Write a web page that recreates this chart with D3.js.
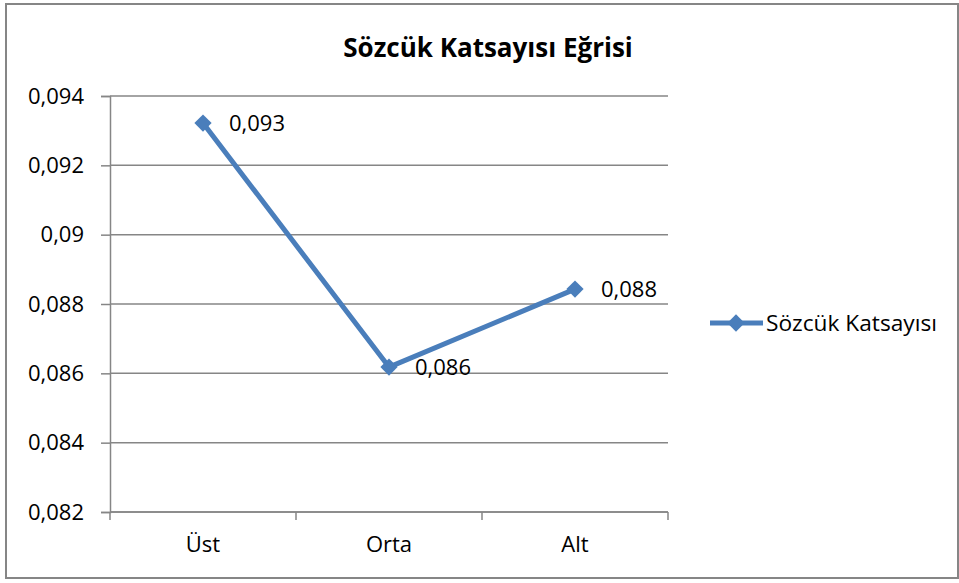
<!DOCTYPE html>
<html>
<head>
<meta charset="utf-8">
<script src="https://cdn.jsdelivr.net/npm/d3@7"></script>
<style>
  body { margin: 0; background: #fff; }
  text { font-family: "Open Sans", "DejaVu Sans", sans-serif; fill: #000; }
</style>
</head>
<body>
<div id="chart"></div>
<script>
const categories = ["Üst", "Orta", "Alt"];
const values = [0.09322, 0.08618, 0.08843];
const valueLabels = ["0,093", "0,086", "0,088"];
const yTicks = [0.082, 0.084, 0.086, 0.088, 0.09, 0.092, 0.094];
const seriesName = "Sözcük Katsayısı";
const title = "Sözcük Katsayısı Eğrisi";

const W = 959, H = 583;
const margin = { top: 96, left: 110, right: 291, bottom: 71 };
const blue = "#4a7ebb";
const gridColor = "#868686";

const svg = d3.select("#chart").append("svg")
  .attr("width", W).attr("height", H);

// outer border
svg.append("rect")
  .attr("x", 6).attr("y", 4).attr("width", 952).attr("height", 574)
  .attr("fill", "#fff").attr("stroke", gridColor).attr("stroke-width", 2);

const innerW = W - margin.left - margin.right;
const innerH = H - margin.top - margin.bottom;
const g = svg.append("g").attr("transform", `translate(${margin.left},${margin.top})`);

const x = d3.scaleBand().domain(categories).range([0, innerW]);
const y = d3.scaleLinear().domain([0.082, 0.094]).range([innerH, 0]);

// gridlines
g.selectAll(".grid").data(yTicks).enter().append("line")
  .attr("x1", 0).attr("x2", innerW)
  .attr("y1", d => y(d)).attr("y2", d => y(d))
  .attr("stroke", gridColor).attr("stroke-width", 1.5);

// y axis
const yAxis = g.append("g")
  .call(d3.axisLeft(y).tickValues(yTicks).tickSize(9).tickPadding(17)
    .tickFormat(d => d3.format(".3~f")(d).replace(".", ",")));
yAxis.select(".domain").attr("stroke", gridColor).attr("stroke-width", 1.5);
yAxis.selectAll(".tick line").attr("stroke", gridColor).attr("stroke-width", 1.5);
yAxis.selectAll(".tick text").style("font-size", "22px").attr("fill", "#000");

// x axis
const xAxis = g.append("g").attr("transform", `translate(0,${innerH})`)
  .call(d3.axisBottom(x).tickSize(0).tickPadding(24));
xAxis.select(".domain").remove();
xAxis.selectAll(".tick text").style("font-size", "22px").attr("fill", "#000");
g.append("line").attr("x1", 0).attr("x2", innerW).attr("y1", innerH).attr("y2", innerH)
  .attr("stroke", gridColor).attr("stroke-width", 1.5);
const edges = categories.map(c => x(c)).concat([innerW]);
g.selectAll(".xtick").data(edges).enter().append("line")
  .attr("x1", d => d).attr("x2", d => d)
  .attr("y1", innerH).attr("y2", innerH + 8)
  .attr("stroke", gridColor).attr("stroke-width", 1.5);

const data = categories.map((c, i) => ({ c, v: values[i], label: valueLabels[i] }));
const px = d => x(d.c) + x.bandwidth() / 2;

// line
g.append("path").datum(data)
  .attr("fill", "none").attr("stroke", blue).attr("stroke-width", 5)
  .attr("stroke-linejoin", "round")
  .attr("d", d3.line().x(px).y(d => y(d.v)));

const diamond = d3.symbol().type(d3.symbolDiamond2).size(190);
g.selectAll(".marker").data(data).enter().append("path")
  .attr("d", diamond)
  .attr("transform", d => `translate(${px(d)},${y(d.v)})`)
  .attr("fill", blue);

// data labels
g.selectAll(".dlabel").data(data).enter().append("text")
  .attr("x", d => px(d) + 26).attr("y", d => y(d.v))
  .attr("dy", "0.35em")
  .style("font-size", "22px")
  .text(d => d.label);

// title
svg.append("text")
  .attr("x", 488).attr("y", 57)
  .attr("text-anchor", "middle")
  .style("font-size", "26px").style("font-weight", "bold")
  .text(title);

// legend
const lg = svg.append("g").attr("transform", "translate(710,323)");
lg.append("line").attr("x1", 0).attr("x2", 53).attr("y1", 0).attr("y2", 0)
  .attr("stroke", blue).attr("stroke-width", 5);
lg.append("path").attr("d", diamond).attr("transform", "translate(26,0)").attr("fill", blue);
lg.append("text").attr("x", 56).attr("y", 0).attr("dy", "0.35em")
  .style("font-size", "22.7px").text(seriesName);
</script>
</body>
</html>
